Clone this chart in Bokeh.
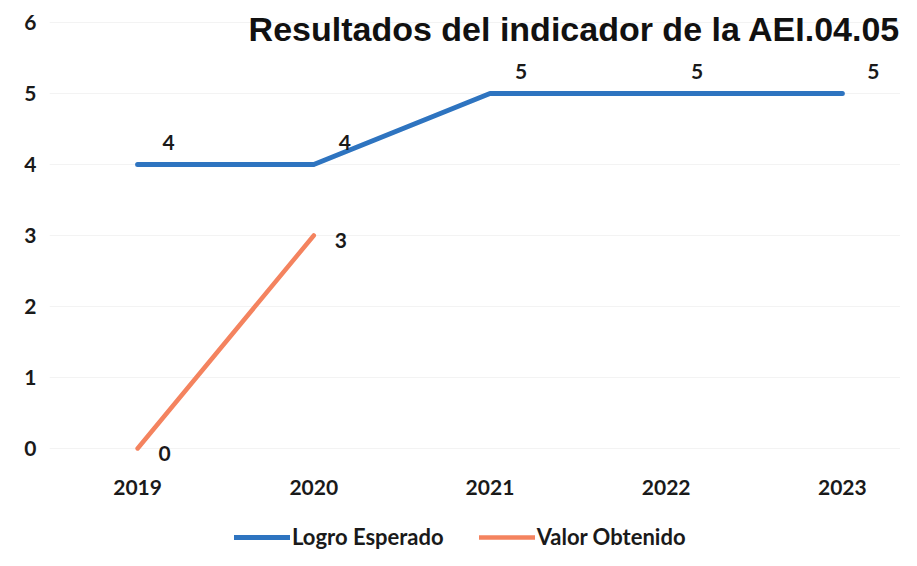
from bokeh.plotting import figure
from bokeh.models import ColumnDataSource, Range1d, FixedTicker, LabelSet, Label, Legend, LegendItem
from bokeh.core.properties import value
from bokeh.embed import file_html
from bokeh.resources import INLINE

# Data
years = [2019, 2020, 2021, 2022, 2023]
year_labels = ["2019", "2020", "2021", "2022", "2023"]
logro_esperado = [4, 4, 5, 5, 5]
obtenido_years = [2019, 2020]
valor_obtenido = [0, 3]
y_ticks = [0, 1, 2, 3, 4, 5, 6]
title_text = "Resultados del indicador de la AEI.04.05"

BLUE = "#2e74c0"
ORANGE = "#f4835f"
FONT = "Lato"
FS = "21px"

src_a = ColumnDataSource(dict(x=years, y=logro_esperado, t=[str(v) for v in logro_esperado]))
src_b = ColumnDataSource(dict(x=obtenido_years, y=valor_obtenido, t=[str(v) for v in valor_obtenido]))

p = figure(frame_width=851, frame_height=550, output_backend="svg", toolbar_location=None,
           x_range=Range1d(2018.5, 2023.33), y_range=Range1d(-1.437, 6.31),
           min_border_left=49, min_border_top=0, min_border_right=0, min_border_bottom=0)
p.outline_line_color = None
p.background_fill_color = "white"
p.border_fill_color = "white"

r1 = p.line("x", "y", source=src_a, line_color=BLUE, line_width=5, line_cap="round", line_join="round")
r2 = p.line("x", "y", source=src_b, line_color=ORANGE, line_width=4.5, line_cap="round", line_join="round")

p.add_layout(LabelSet(x="x", y="y", text="t", source=src_a, x_offset=31, y_offset=22,
                      text_align="center", text_baseline="middle", text_font=value(FONT),
                      text_font_style="bold", text_font_size=FS, text_color="#1a1a1a"))
p.add_layout(LabelSet(x="x", y="y", text="t", source=src_b, x_offset=27, y_offset=-5,
                      text_align="center", text_baseline="middle", text_font=value(FONT),
                      text_font_style="bold", text_font_size=FS, text_color="#1a1a1a"))

# axes
p.xaxis.ticker = FixedTicker(ticks=years)
p.xaxis.major_label_overrides = {y: l for y, l in zip(years, year_labels)}
p.xaxis.fixed_location = 0
p.yaxis.ticker = FixedTicker(ticks=y_ticks)
for ax in (p.xaxis[0], p.yaxis[0]):
    ax.axis_line_color = None
    ax.major_tick_line_color = None
    ax.minor_tick_line_color = None
    ax.major_label_text_font = FONT
    ax.major_label_text_font_style = "bold"
    ax.major_label_text_font_size = FS
    ax.major_label_text_color = "#1a1a1a"
p.xaxis.major_label_standoff = 26
p.yaxis.major_label_standoff = 7

p.xgrid.grid_line_color = None
p.ygrid.grid_line_color = "#f3f3f3"
p.ygrid.grid_line_width = 1

legend = Legend(items=[LegendItem(label="Logro Esperado", renderers=[r1]),
                       LegendItem(label="Valor Obtenido", renderers=[r2])],
                orientation="horizontal", location=(185, 0),
                label_text_font=FONT, label_text_font_style="bold", label_text_font_size="22px",
                label_text_color="#1a1a1a", glyph_width=56, glyph_height=22,
                label_standoff=2, spacing=35, border_line_color=None,
                background_fill_alpha=0, padding=0, margin=0)
p.add_layout(legend, "center")

p.add_layout(Label(x=851, y=522, x_units="screen", y_units="screen", text=title_text,
                   text_align="right", text_baseline="alphabetic", text_font="Liberation Sans",
                   text_font_style="bold", text_font_size="34px", text_color="#111111"))

open("out.html", "w").write(file_html(p, INLINE))
